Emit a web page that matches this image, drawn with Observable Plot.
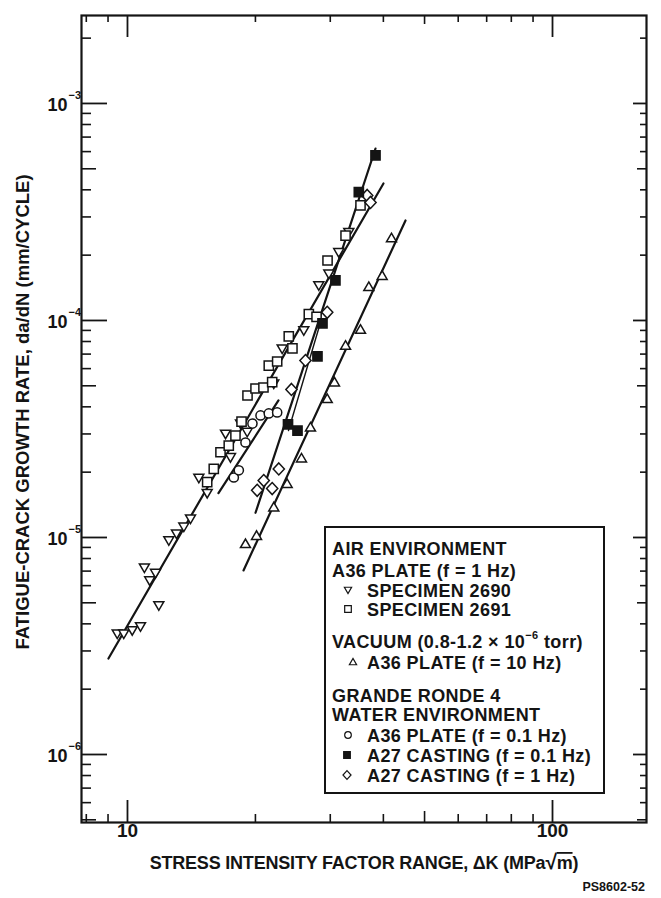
<!DOCTYPE html>
<html>
<head>
<meta charset="utf-8">
<script src="https://cdn.jsdelivr.net/npm/d3@7"></script>
<script src="https://cdn.jsdelivr.net/npm/@observablehq/plot@0.6"></script>
<style>
  html, body { margin: 0; padding: 0; background: #fff; }
  #chart svg { display: block; }
</style>
</head>
<body>
<div id="chart"></div>
<script>
// ---------------- DATA ----------------
// [ΔK (MPa√m), da/dN (mm/cycle)]
const spec2690 = [
  [9.46,3.60e-6],[9.80,3.60e-6],[10.26,3.73e-6],[10.73,3.89e-6],[11.85,4.86e-6],
  [10.96,7.25e-6],[11.28,6.33e-6],[11.64,6.85e-6],[12.51,9.69e-6],[13.04,1.04e-5],
  [13.57,1.12e-5],[14.07,1.22e-5],[14.72,1.88e-5],[15.40,1.60e-5],[17.01,3.00e-5],
  [17.47,2.34e-5],[18.45,3.34e-5],[19.13,3.06e-5],[22.09,5.11e-5],[23.12,7.41e-5],
  [25.99,8.99e-5],[28.19,1.45e-4],[29.77,1.64e-4],[31.41,2.06e-4],[33.17,2.55e-4]
];
const spec2691 = [
  [15.40,1.80e-5],[15.96,2.07e-5],[16.55,2.47e-5],[17.31,2.65e-5],[17.95,2.95e-5],
  [18.55,3.42e-5],[19.16,4.51e-5],[20.01,4.86e-5],[20.89,4.91e-5],[21.50,6.20e-5],
  [22.50,6.47e-5],[21.90,5.20e-5],[23.96,8.44e-5],[24.44,7.43e-5],[26.71,1.07e-4],
  [27.85,1.04e-4],[29.56,1.89e-4],[32.59,2.46e-4],[35.34,3.39e-4]
];
const vacuumA36 = [
  [18.95,9.35e-6],[20.12,1.02e-5],[22.09,1.38e-5],[23.75,1.77e-5],[25.67,2.32e-5],
  [26.95,3.22e-5],[29.51,4.36e-5],[30.69,5.20e-5],[32.59,7.67e-5],[35.34,9.09e-5],
  [36.97,1.43e-4],[39.74,1.61e-4],[41.80,2.40e-4]
];
const waterA36 = [
  [17.79,1.89e-5],[18.28,2.04e-5],[18.95,2.74e-5],[19.68,3.35e-5],[20.56,3.65e-5],
  [21.50,3.73e-5],[22.50,3.77e-5]
];
const waterA27slow = [
  [38.33,5.76e-4],[35.02,3.90e-4],[30.85,1.53e-4],[28.76,9.69e-5],[27.99,6.83e-5],
  [23.86,3.32e-5],[25.12,3.11e-5]
];
const waterA27fast = [
  [36.64,3.77e-4],[37.31,3.50e-4],[29.51,1.09e-4],[26.23,6.54e-5],[24.31,4.81e-5],
  [22.70,2.07e-5],[20.92,1.83e-5],[20.19,1.65e-5],[21.90,1.68e-5]
];
// fitted lines (end points)
const fitAir       = [[9.02,2.77e-6],[40.02,4.28e-4]];
const fitWaterA36  = [[16.37,1.60e-5],[22.66,4.28e-5]];
const fitCasting   = [[20.01,1.30e-5],[38.33,6.20e-4]];
const fitCasting2  = [[23.92,3.11e-5],[28.45,9.79e-5]];
const fitVacuum    = [[18.75,7.05e-6],[45.10,2.89e-4]];

// axes
const xDomain = [7.795, 166.4];
const yDomain = [4.86e-7, 2.543e-3];
const xMajorTicks = [10, 100];
const xMidTicks = [50];
const xMinorTicks = [8, 9, 20, 30, 40, 60, 70, 80, 90];
const xTickLabels = ["10", "100"];
const yMajorTicks = [1e-3, 1e-4, 1e-5, 1e-6];
const yMidTicks = [5e-4, 5e-5, 5e-6, 5e-7];
const yMinorTicks = [2e-3,
  9e-4, 8e-4, 7e-4, 6e-4, 4e-4, 3e-4, 2e-4,
  9e-5, 8e-5, 7e-5, 6e-5, 4e-5, 3e-5, 2e-5,
  9e-6, 8e-6, 7e-6, 6e-6, 4e-6, 3e-6, 2e-6,
  9e-7, 8e-7, 7e-7, 6e-7];
const yTickBase = ["10", "10", "10", "10"];
const yTickExp = ["−3", "−4", "−5", "−6"];

const xTitle = "STRESS INTENSITY FACTOR RANGE, ΔK (MPa";
const yTitle = "FATIGUE-CRACK GROWTH RATE, da/dN (mm/CYCLE)";
const figureId = "PS8602-52";
const legendTexts = [
  "AIR ENVIRONMENT",
  "A36 PLATE (f = 1 Hz)",
  "SPECIMEN 2690",
  "SPECIMEN 2691",
  "VACUUM (0.8-1.2 × 10",
  "A36 PLATE (f = 10 Hz)",
  "GRANDE RONDE 4",
  "WATER ENVIRONMENT",
  "A36 PLATE (f = 0.1 Hz)",
  "A27 CASTING (f = 0.1 Hz)",
  "A27 CASTING (f = 1 Hz)"
];

// ---------------- SYMBOLS ----------------
const sym = f => ({ draw(ctx, size) { const k = Math.sqrt(size / Math.PI) / 5; f(ctx, k); } });
const triDown = sym((c, k) => { c.moveTo(-5*k, -3.8*k); c.lineTo(5*k, -3.8*k); c.lineTo(0, 4.8*k); c.closePath(); });
const triUp   = sym((c, k) => { c.moveTo(-5*k, 3.8*k); c.lineTo(5*k, 3.8*k); c.lineTo(0, -4.8*k); c.closePath(); });
const square  = sym((c, k) => { c.rect(-4.6*k, -4.6*k, 9.2*k, 9.2*k); });
const circle  = sym((c, k) => { c.moveTo(4.6*k, 0); c.arc(0, 0, 4.6*k, 0, 2*Math.PI); });
const diamond = sym((c, k) => { c.moveTo(0, -6*k); c.lineTo(5.6*k, 0); c.lineTo(0, 6*k); c.lineTo(-5.6*k, 0); c.closePath(); });

const INK = "#141414";
const FONT = "'Liberation Sans', Arial, Helvetica, sans-serif";
const W = 661, H = 898, ML = 81, MR = 15, MT = 15, MB = 76;
const FW = W - ML - MR, FH = H - MT - MB;
const px = d => d[0], py = d => d[1];
const dotOpts = (symbol, fill) => ({x: px, y: py, symbol, r: 5, fill, stroke: INK, strokeWidth: 1.5});
const lineOpts = w => ({x: px, y: py, stroke: INK, strokeWidth: w, strokeLinecap: "round"});
// inward ticks drawn with tick marks inset to the wanted length
const ticksBottom = (t, len, w) => Plot.tickX(t, {x: d => d, insetTop: FH - len, stroke: INK, strokeWidth: w});
const ticksTop    = (t, len, w) => Plot.tickX(t, {x: d => d, insetBottom: FH - len, stroke: INK, strokeWidth: w});
const ticksLeft   = (t, len, w) => Plot.tickY(t, {y: d => d, insetRight: FW - len, stroke: INK, strokeWidth: w});
const ticksRight  = (t, len, w) => Plot.tickY(t, {y: d => d, insetLeft: FW - len, stroke: INK, strokeWidth: w});

const plot = Plot.plot({
  width: W, height: H,
  marginLeft: ML, marginRight: MR, marginTop: MT, marginBottom: MB,
  style: {fontFamily: FONT, background: "white", color: INK},
  x: {type: "log", domain: xDomain, axis: null},
  y: {type: "log", domain: yDomain, axis: null},
  marks: [
    ticksBottom(xMajorTicks, 22, 1.8), ticksBottom(xMidTicks, 11, 1.6), ticksBottom(xMinorTicks, 8, 1.6),
    ticksTop(xMajorTicks, 22, 1.8), ticksTop(xMidTicks, 9, 1.6), ticksTop(xMinorTicks, 7, 1.6),
    ticksLeft(yMajorTicks, 26, 1.8), ticksLeft(yMidTicks, 15, 1.6), ticksLeft(yMinorTicks, 10, 1.6),
    ticksRight(yMajorTicks, 13, 1.8), ticksRight(yMidTicks, 9, 1.6), ticksRight(yMinorTicks, 6, 1.6),
    // tick labels
    Plot.text(xMajorTicks, {x: d => d, frameAnchor: "bottom", dy: 14, text: (d, i) => xTickLabels[i],
      fontSize: 19, fontWeight: "bold", fill: INK}),
    Plot.text(yMajorTicks, {y: d => d, frameAnchor: "left", dx: -14, dy: 2, textAnchor: "end",
      text: (d, i) => yTickBase[i], fontSize: 18, fontWeight: "bold", fill: INK}),
    Plot.text(yMajorTicks, {y: d => d, frameAnchor: "left", dx: -13, dy: -8, textAnchor: "start",
      text: (d, i) => yTickExp[i], fontSize: 11, fontWeight: "bold", fill: INK}),
    // fit lines
    Plot.line(fitAir, lineOpts(2.2)),
    Plot.line(fitWaterA36, lineOpts(2.2)),
    Plot.line(fitCasting, lineOpts(2.2)),
    Plot.line(fitCasting2, lineOpts(1.4)),
    Plot.line(fitVacuum, lineOpts(2.2)),
    // data points
    Plot.dot(spec2690, dotOpts(triDown, "white")),
    Plot.dot(spec2691, dotOpts(square, "white")),
    Plot.dot(vacuumA36, dotOpts(triUp, "white")),
    Plot.dot(waterA36, dotOpts(circle, "white")),
    Plot.dot(waterA27fast, dotOpts(diamond, "white")),
    Plot.dot(waterA27slow, dotOpts(square, INK)),
    Plot.frame({stroke: INK, strokeWidth: 2.2})
  ]
});

document.getElementById("chart").appendChild(plot);

// ---------------- TITLES & LEGEND ----------------
const svg = d3.select(plot);
const g = svg.append("g").attr("font-family", FONT).attr("font-weight", "bold").attr("fill", INK);

// x title
const xt = g.append("text").attr("x", 364).attr("y", 869).attr("text-anchor", "middle")
  .attr("font-size", 18).attr("letter-spacing", -0.2);
xt.append("tspan").text(xTitle);
xt.append("tspan").text("√").attr("font-size", 21);
xt.append("tspan").text("m").style("text-decoration", "overline");
xt.append("tspan").text(")");

// y title
g.append("text")
  .attr("transform", "translate(29,412) rotate(-90)")
  .attr("text-anchor", "middle").attr("font-size", 18.5)
  .text(yTitle);

// figure id
g.append("text").attr("x", 645).attr("y", 891).attr("text-anchor", "end").attr("font-size", 12.5).text(figureId);

// legend box
const lg = g.append("g").attr("font-size", 18).attr("letter-spacing", 0.4).attr("text-anchor", "start");
lg.append("rect").attr("x", 325).attr("y", 527).attr("width", 279).attr("height", 266)
  .attr("fill", "white").attr("stroke", INK).attr("stroke-width", 2);

const baselines = [555, 577, 597, 616, 648, 669, 702, 721, 742, 762, 782];
const legendSym = [null, null, triDown, square, null, triUp, null, null, circle, square, diamond];
const legendFill = [null, null, "white", "white", null, "white", null, null, "white", INK, "white"];
const symX = [0, 0, 348, 348, 0, 353, 0, 0, 348, 347, 347];

legendTexts.forEach((t, i) => {
  const s = legendSym[i];
  const x = s ? 367 : 332;
  const txt = lg.append("text").attr("x", x).attr("y", baselines[i]).text(t);
  if (i === 4) {
    txt.append("tspan").attr("font-size", 11).attr("dy", -9).text("−6");
    txt.append("tspan").attr("dy", 9).text(" torr)");
  }
  if (s) {
    const path = d3.symbol().type(s).size(Math.PI * 3.6 * 3.6)();
    lg.append("path").attr("d", path)
      .attr("transform", `translate(${symX[i]},${baselines[i] - 7})`)
      .attr("fill", legendFill[i]).attr("stroke", INK).attr("stroke-width", 1.2);
  }
});
</script>
</body>
</html>
